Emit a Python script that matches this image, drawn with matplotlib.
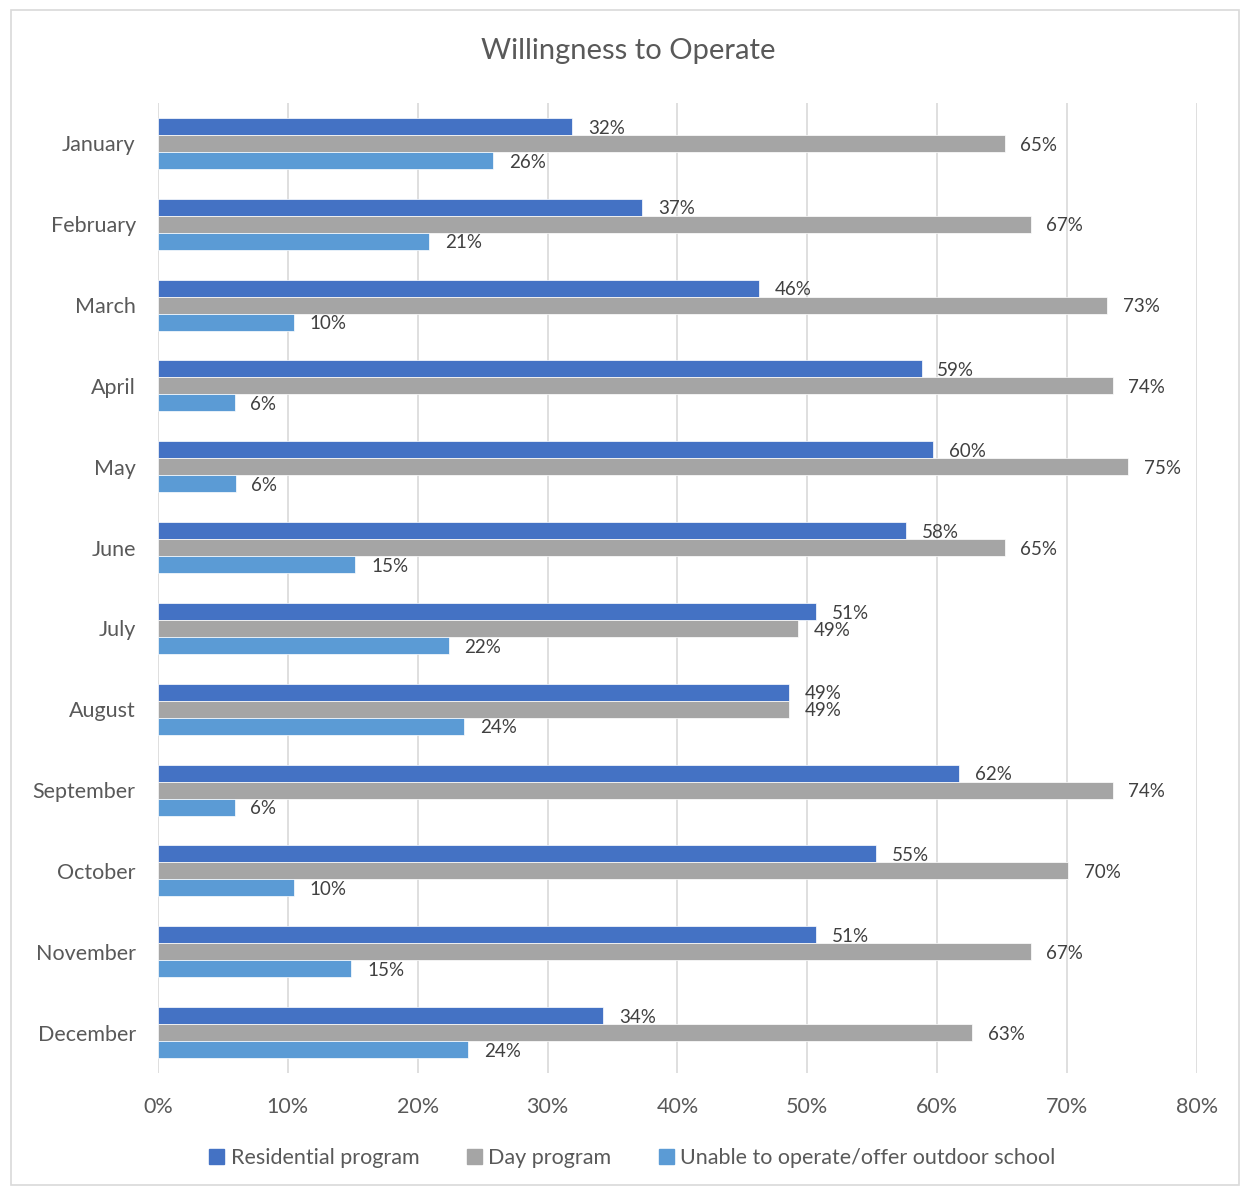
import numpy as np
import matplotlib
matplotlib.use("Agg")
import matplotlib.pyplot as plt
import matplotlib.patches as mpatches

# ------------------------------------------------------------------ #
#  Data (percent)
# ------------------------------------------------------------------ #
months = ["January", "February", "March", "April", "May", "June",
          "July", "August", "September", "October", "November", "December"]
residential = [31.9, 37.3, 46.3, 58.8, 59.7, 57.6, 50.7, 48.6, 61.7, 55.3, 50.7, 34.3]
day_program = [65.2, 67.2, 73.1, 73.5, 74.7, 65.2, 49.3, 48.6, 73.5, 70.1, 67.2, 62.7]
unable = [25.8, 20.9, 10.5, 5.9, 6.0, 15.2, 22.4, 23.6, 5.9, 10.5, 14.9, 23.9]
series_names = ["Residential program", "Day program",
                "Unable to operate/offer outdoor school"]
x_ticks = [0, 10, 20, 30, 40, 50, 60, 70, 80]

COLORS = ["#4472C4", "#A5A5A5", "#5B9BD5"]
TEXT_GRAY = "#595959"
LABEL_GRAY = "#404040"

plt.rcParams["font.family"] = ["Lato", "DejaVu Sans"]

fig = plt.figure(figsize=(12.4, 11.87), dpi=100)
ax = fig.add_axes([0.1274, 0.0960, 0.8379, 0.8172])

# outer chart border
fig.add_artist(mpatches.Rectangle((11 / 1240, 2 / 1187), 1228 / 1240, 1175 / 1187,
                                  transform=fig.transFigure, fill=False,
                                  edgecolor="#D9D9D9", linewidth=1.2))

y = np.arange(len(months))
bar_h = 0.21
for i, (vals, color) in enumerate(zip([residential, day_program, unable], COLORS)):
    offs = (i - 1) * bar_h
    bars = ax.barh(y + offs, vals, height=bar_h, color=color,
                   edgecolor="white", linewidth=0.5, label=series_names[i], zorder=3)
    for b, v in zip(bars, vals):
        ax.text(v + 1.2, b.get_y() + b.get_height() / 2 + 0.02, f"{round(v):d}%",
                va="center", ha="left", fontsize=13.5, color=LABEL_GRAY, zorder=4)

ax.set_xlim(0, 80)
ax.set_ylim(len(months) - 0.5, -0.5)
ax.set_xticks(x_ticks)
ax.set_xticklabels([f"{t}%" for t in x_ticks])
ax.set_yticks(y)
ax.set_yticklabels(months)
ax.tick_params(axis="both", length=0, labelsize=15.5, colors=TEXT_GRAY)
ax.tick_params(axis="x", pad=17)
ax.tick_params(axis="y", pad=16)
ax.grid(axis="x", color="#D9D9D9", linewidth=1.2, zorder=0)
for s in ax.spines.values():
    s.set_visible(False)

fig.text(0.507, 0.957, "Willingness to Operate", ha="center", va="center",
         fontsize=21, color=TEXT_GRAY)

handles = [mpatches.Patch(color=c, label=n) for c, n in zip(COLORS, series_names)]
fig.legend(handles=handles, loc="center", bbox_to_anchor=(0.51, 0.0245), ncol=3,
           frameon=False, fontsize=15.5, labelcolor=TEXT_GRAY,
           handlelength=0.7, handleheight=0.7, handletextpad=0.3, columnspacing=2.2)

fig.savefig("out.png", dpi=100)
